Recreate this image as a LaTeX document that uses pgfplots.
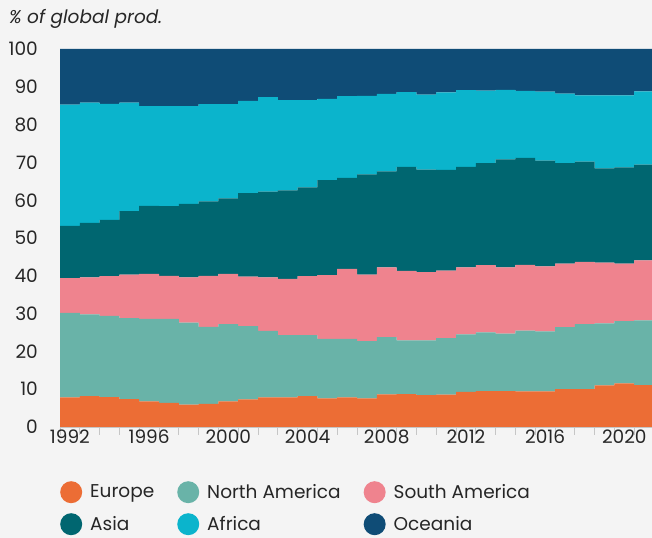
\documentclass[border=0pt]{standalone}
\usepackage{fontspec}
\setmainfont{Poppins}
\usepackage{pgfplots}
\usepackage{pgfplotstable}
\pgfplotsset{compat=1.18}
\definecolor{bg}{HTML}{F4F4F4}
\definecolor{europe}{HTML}{EC6D35}
\definecolor{namer}{HTML}{69B3A8}
\definecolor{samer}{HTML}{EF838E}
\definecolor{asia}{HTML}{006670}
\definecolor{africa}{HTML}{0BB4CC}
\definecolor{oceania}{HTML}{0F4C76}
% shares in % of global production; last row repeats 2021 to close the final step
\pgfplotstableread{
year Europe NAm SAm Asia Africa Oceania
1992 7.85 22.35 9.2 13.8 32.1 14.7
1993 8.2 21.6 9.8 14.4 31.8 14.2
1994 7.9 21.5 10.5 14.9 30.7 14.5
1995 7.4 21.4 11.5 16.8 28.7 14.2
1996 6.8 21.8 11.9 18.0 26.4 15.1
1997 6.4 22.2 11.4 18.4 26.5 15.1
1998 5.9 21.7 12.0 19.4 25.9 15.1
1999 6.1 20.4 13.5 19.7 25.7 14.6
2000 6.8 20.4 13.3 20.0 24.9 14.6
2001 7.3 19.4 13.1 22.1 24.4 13.7
2002 7.85 17.55 14.2 22.7 25.0 12.7
2003 7.85 16.45 14.9 23.4 23.9 13.5
2004 8.2 16.1 15.6 23.5 23.1 13.5
2005 7.6 15.7 16.9 25.1 21.5 13.2
2006 7.85 15.45 18.5 24.1 21.6 12.5
2007 7.6 15.1 17.6 26.5 20.8 12.4
2008 8.6 15.2 18.4 25.4 20.5 11.9
2009 8.7 14.2 18.4 27.5 19.8 11.4
2010 8.4 14.5 18.1 27.1 19.8 12.1
2011 8.55 14.95 17.9 26.6 20.5 11.5
2012 9.3 15.2 17.7 26.6 20.3 10.9
2013 9.5 15.5 17.8 27.0 19.2 11.0
2014 9.5 15.2 17.5 28.6 18.4 10.8
2015 9.4 16.1 17.4 28.3 17.7 11.1
2016 9.4 15.9 17.2 28.0 18.2 11.3
2017 10.0 16.4 16.8 26.6 18.4 11.8
2018 10.05 17.15 16.5 26.5 17.5 12.3
2019 11.0 16.4 16.1 24.9 19.3 12.3
2020 11.55 16.45 15.2 25.5 19.0 12.3
2021 11.1 17.1 15.9 25.3 19.4 11.2
2022 11.1 17.1 15.9 25.3 19.4 11.2
}\shares
\begin{document}
\begin{tikzpicture}
\fill[bg] (0,0) rectangle (652bp,538bp);
\path[use as bounding box] (0,0) rectangle (652bp,538bp);
\node[anchor=base west, inner sep=0pt, font=\fontsize{18.5bp}{18.5bp}\selectfont\itshape, text=black!85] at (9bp,514bp) {\% of global prod.};
\begin{axis}[
  at={(60bp,111bp)}, anchor=south west,
  scale only axis, width=594bp, height=378bp,
  xmin=1991.5, xmax=2021.5, ymin=0, ymax=100,
  stack plots=y,
  axis x line*=bottom, axis y line*=left,
  y axis line style={draw=none},
  x axis line style={draw=gray!45, line width=0.8bp},
  xtick={1992,1996,...,2020},
  minor xtick={1991.5,1992.5,...,2021.5},
  ytick={0,10,...,100},
  tick align=outside,
  major tick length=0pt, minor tick length=8bp,
  minor x tick style={draw=gray!45, line width=0.8bp},
  ytick style={draw=none},
  /pgf/number format/assume math mode=true,
  x tick label style={/pgf/number format/1000 sep={}},
  ticklabel style={font=\fontsize{18.5bp}{18.5bp}\selectfont, text=black!85, inner sep=0pt},
  yticklabel style={anchor=east, xshift=-22bp},
  xticklabel style={anchor=north, yshift=-3bp},
  legend columns=3,
  legend cell align=left,
  legend style={at={(0,0)}, yshift=-54bp, anchor=north west, draw=none, fill=none,
    inner sep=0pt, font=\fontsize{18.5bp}{18.5bp}\selectfont, text=black!85,
    nodes={inner sep=0pt, anchor=west},
    /tikz/every even column/.append style={column sep=23bp}, row sep=10bp},
  legend image code/.code={\fill[#1] (11bp,0bp) circle (11bp); \path (30bp,0bp);},
]
\addplot[fill=europe, draw=none, const plot] table[x expr=\thisrow{year}-0.5, y=Europe] {\shares} \closedcycle;
\addplot[fill=namer, draw=none, const plot] table[x expr=\thisrow{year}-0.5, y=NAm] {\shares} \closedcycle;
\addplot[fill=samer, draw=none, const plot] table[x expr=\thisrow{year}-0.5, y=SAm] {\shares} \closedcycle;
\addplot[fill=asia, draw=none, const plot] table[x expr=\thisrow{year}-0.5, y=Asia] {\shares} \closedcycle;
\addplot[fill=africa, draw=none, const plot] table[x expr=\thisrow{year}-0.5, y=Africa] {\shares} \closedcycle;
\addplot[fill=oceania, draw=none, const plot] table[x expr=\thisrow{year}-0.5, y=Oceania] {\shares} \closedcycle;
\legend{Europe, North America, South America, Asia, Africa, Oceania}
\end{axis}
\end{tikzpicture}
\end{document}
